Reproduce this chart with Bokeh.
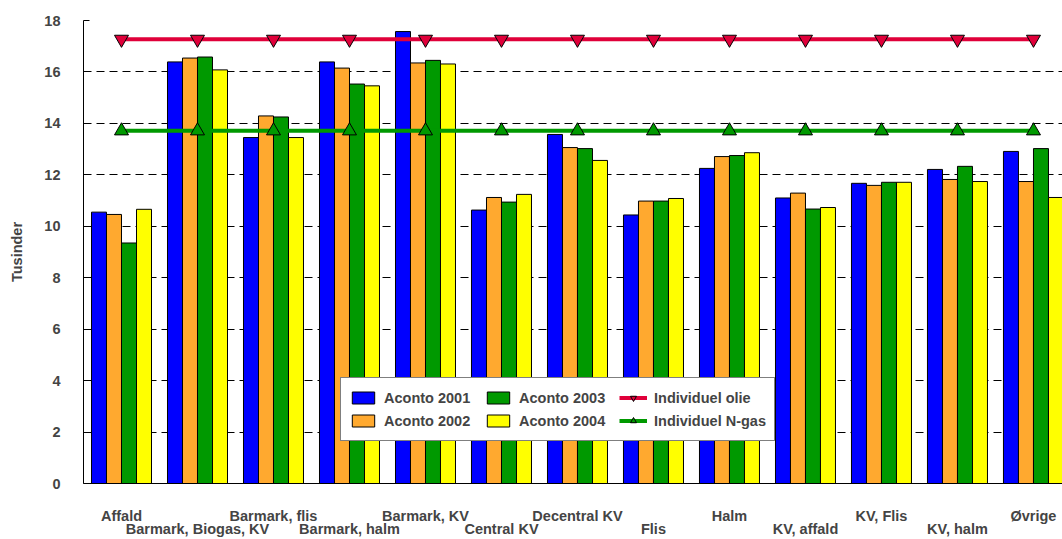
from bokeh.plotting import figure
from bokeh.models import Range1d, FixedTicker, Legend, LegendItem, LinearAxis
from bokeh.embed import file_html
from bokeh.resources import INLINE

categories = ["Affald", "Barmark, Biogas, KV", "Barmark, flis", "Barmark, halm",
              "Barmark, KV", "Central KV", "Decentral KV", "Flis", "Halm",
              "KV, affald", "KV, Flis", "KV, halm", "Øvrige"]
aconto_2001 = [10.55, 16.39, 13.45, 16.39, 17.57, 10.63, 13.57, 10.44, 12.25, 11.10, 11.67, 12.21, 12.91]
aconto_2002 = [10.46, 16.54, 14.29, 16.15, 16.35, 11.12, 13.06, 10.98, 12.71, 11.29, 11.59, 11.82, 11.74]
aconto_2003 = [9.35, 16.58, 14.25, 15.53, 16.45, 10.94, 13.02, 10.98, 12.75, 10.67, 11.71, 12.33, 13.02]
aconto_2004 = [10.66, 16.08, 13.45, 15.46, 16.31, 11.24, 12.56, 11.08, 12.86, 10.73, 11.71, 11.74, 11.12]
individuel_olie = [17.27, 17.27, 17.27, 17.27, 17.27, 17.27, 17.27, 17.27, 17.27, 17.27, 17.27, 17.27, 17.27]
individuel_ngas = [13.71, 13.71, 13.71, 13.71, 13.71, 13.71, 13.71, 13.71, 13.71, 13.71, 13.71, 13.71, 13.71]
y_ticks = [0, 2, 4, 6, 8, 10, 12, 14, 16, 18]

FONT = "Liberation Sans"
FS = "14.5px"
xs = list(range(len(categories)))

p = figure(width=1062, height=539, x_range=Range1d(-0.5, 12.382), y_range=Range1d(0, 18),
           output_backend="svg", toolbar_location=None,
           min_border_left=83, min_border_right=0, min_border_top=20, min_border_bottom=56)
p.outline_line_color = None
p.background_fill_color = "white"
p.border_fill_color = "white"

# grid
p.xgrid.visible = False
p.ygrid.ticker = FixedTicker(ticks=y_ticks)
p.ygrid.grid_line_color = "black"
p.ygrid.grid_line_dash = "8 5"
p.ygrid.grid_line_width = 1

# y axis
p.yaxis.ticker = FixedTicker(ticks=y_ticks)
p.yaxis.axis_label = "Tusinder"
p.yaxis.axis_label_text_font = FONT
p.yaxis.axis_label_text_font_style = "bold"
p.yaxis.axis_label_text_font_size = FS
p.yaxis.axis_label_standoff = 16
p.yaxis.major_label_text_font = FONT
p.yaxis.major_label_text_font_style = "bold"
p.yaxis.major_label_text_font_size = FS
p.yaxis.major_label_standoff = 23
p.yaxis.major_tick_in = 6
p.yaxis.major_tick_out = 0
p.yaxis.minor_tick_line_color = None
p.yaxis.axis_line_color = "black"

# x axis: upper row of category labels (even positions)
xa = p.xaxis[0]
xa.ticker = FixedTicker(ticks=xs[0::2])
xa.major_label_overrides = {i: categories[i] for i in xs[0::2]}
xa.major_tick_in = 0
xa.major_tick_out = 0
xa.minor_tick_line_color = None
xa.major_label_standoff = 24
xa.major_label_text_font = FONT
xa.major_label_text_font_style = "bold"
xa.major_label_text_font_size = FS
xa.axis_line_color = "black"

# second x axis: lower row of category labels (odd positions)
xb = LinearAxis(ticker=FixedTicker(ticks=xs[1::2]),
                major_label_overrides={i: categories[i] for i in xs[1::2]})
xb.major_tick_in = 0
xb.major_tick_out = 0
xb.minor_tick_line_color = None
xb.major_label_standoff = -6
xb.major_label_text_font = FONT
xb.major_label_text_font_style = "bold"
xb.major_label_text_font_size = FS
xb.axis_line_color = None
p.add_layout(xb, "below")

bw = 0.1974
series = [("Aconto 2001", aconto_2001, "#0000FF", -1.5),
          ("Aconto 2002", aconto_2002, "#FFA92F", -0.5),
          ("Aconto 2003", aconto_2003, "#009900", 0.5),
          ("Aconto 2004", aconto_2004, "#FFFF00", 1.5)]
bar_renderers = {}
for name, vals, col, off in series:
    r = p.vbar(x=[x + off * bw for x in xs], top=vals, bottom=0, width=bw,
               fill_color=col, line_color="black", line_width=1)
    bar_renderers[name] = r

l1 = p.line(xs, individuel_olie, line_color="#E0003A", line_width=4)
m1 = p.scatter(xs, individuel_olie, marker="inverted_triangle", size=14,
               fill_color="#E0003A", line_color="black", line_width=1)
l2 = p.line(xs, individuel_ngas, line_color="#009900", line_width=4)
m2 = p.scatter(xs, individuel_ngas, marker="triangle", size=14,
               fill_color="#009900", line_color="black", line_width=1)

legend = Legend(items=[
    LegendItem(label="Aconto 2001", renderers=[bar_renderers["Aconto 2001"]]),
    LegendItem(label="Aconto 2002", renderers=[bar_renderers["Aconto 2002"]]),
    LegendItem(label="Aconto 2003", renderers=[bar_renderers["Aconto 2003"]]),
    LegendItem(label="Aconto 2004", renderers=[bar_renderers["Aconto 2004"]]),
    LegendItem(label="Individuel olie", renderers=[l1, m1]),
    LegendItem(label="Individuel N-gas", renderers=[l2, m2]),
], location=(257, 42), orientation="vertical", nrows=2)
legend.glyph_width = 28
legend.glyph_height = 15
legend.label_height = 23
legend.label_width = 100
legend.label_standoff = 7
legend.spacing = 0
legend.padding = 8
legend.margin = 0
legend.label_text_font = FONT
legend.label_text_font_style = "bold"
legend.label_text_font_size = FS
legend.border_line_color = "black"
legend.border_line_width = 1
legend.background_fill_color = "white"
legend.background_fill_alpha = 1
p.add_layout(legend, "center")

open("out.html", "w").write(file_html(p, INLINE))
